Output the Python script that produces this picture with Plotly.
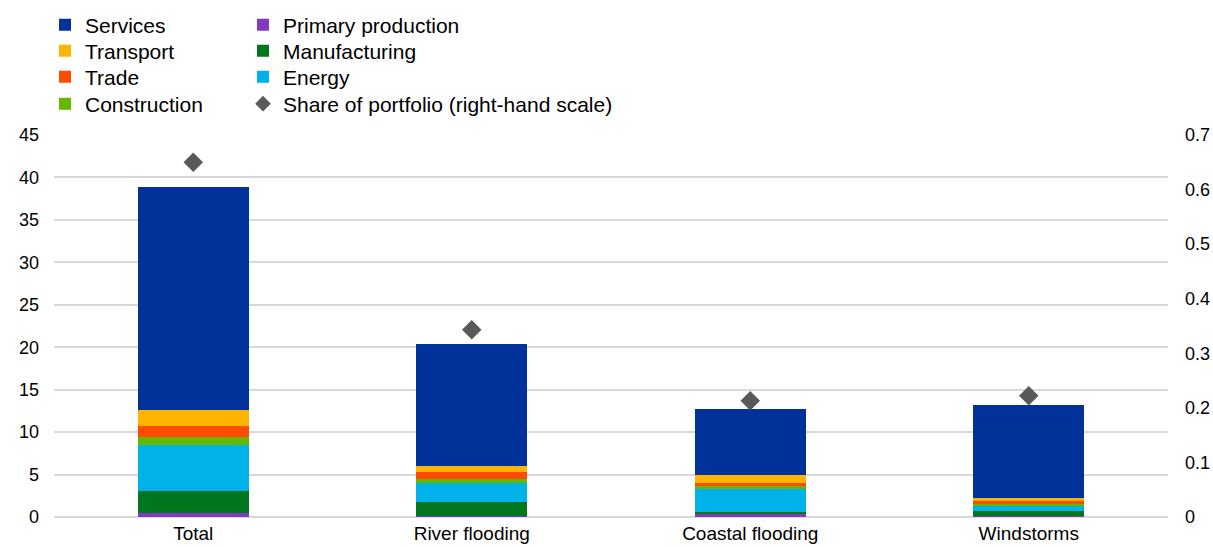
import plotly.graph_objects as go

categories = ["Total", "River flooding", "Coastal flooding", "Windstorms"]

# Sector contributions, stacked bottom-up
primary_production = [0.45, 0.1, 0.33, 0.1]
manufacturing = [2.6, 1.65, 0.3, 0.66]
energy = [5.4, 2.3, 2.64, 0.63]
construction = [0.95, 0.4, 0.39, 0.2]
trade = [1.33, 0.86, 0.39, 0.24]
transport = [1.9, 0.75, 0.9, 0.4]
services = [26.2, 14.3, 7.77, 10.95]

# Share of portfolio (right-hand scale)
share_of_portfolio = [0.65, 0.343, 0.213, 0.222]

left_ticks = [0, 5, 10, 15, 20, 25, 30, 35, 40, 45]
right_ticks = [0, 0.1, 0.2, 0.3, 0.4, 0.5, 0.6, 0.7]

FONT = "Liberation Sans, Arial, sans-serif"
W, H = 1213, 547

fig = go.Figure()

# (name, values, colour, legend id) - one small legend per entry so the
# two-column key can be laid out on a fixed grid
stack = [
    ("Primary production", primary_production, "#8139C6", "legend5"),
    ("Manufacturing", manufacturing, "#00761E", "legend6"),
    ("Energy", energy, "#00B1EA", "legend7"),
    ("Construction", construction, "#65B800", "legend4"),
    ("Trade", trade, "#FF4B00", "legend3"),
    ("Transport", transport, "#FFB400", "legend2"),
    ("Services", services, "#003299", "legend"),
]
for name, vals, color, leg in stack:
    fig.add_trace(go.Bar(
        x=categories, y=vals, name=name,
        marker=dict(color=color, line=dict(width=0)),
        legend=leg,
    ))

fig.add_trace(go.Scatter(
    x=categories, y=share_of_portfolio, name="Share of portfolio (right-hand scale)",
    mode="markers", yaxis="y2",
    marker=dict(symbol="diamond", size=15, color="#595959"),
    legend="legend8",
))

legend_common = dict(
    font=dict(family=FONT, size=21, color="#000000"),
    bgcolor="rgba(0,0,0,0)",
    orientation="v",
    xref="container", yref="container",
    xanchor="left", yanchor="middle",
    itemsizing="constant",
)

row_y = [25, 51, 77, 104]
col_x = [45, 243]

legends = {}
for i in range(8):
    key = "legend" if i == 0 else f"legend{i + 1}"
    col, row = divmod(i, 4)
    legends[key] = dict(x=col_x[col] / W, y=1 - row_y[row] / H, **legend_common)

fig.update_layout(
    width=W, height=H,
    margin=dict(l=54, r=45, t=135, b=30, autoexpand=False),
    paper_bgcolor="white", plot_bgcolor="white",
    barmode="stack", bargap=0.6,
    font=dict(family=FONT, size=18, color="#000000"),
    xaxis=dict(showgrid=False, showline=False, ticks="",
               ticklabelstandoff=3,
               tickfont=dict(size=19, color="#000000")),
    yaxis=dict(range=[0, 45], tickvals=left_ticks, showgrid=True,
               gridcolor="#D9D9D9", gridwidth=1.5, zeroline=True,
               zerolinecolor="#D9D9D9", zerolinewidth=1.5,
               ticks="", ticklabelstandoff=14,
               tickfont=dict(size=18, color="#000000")),
    yaxis2=dict(range=[0, 0.7], tickvals=right_ticks, overlaying="y",
                side="right", showgrid=False, zeroline=False, ticks="",
                ticklabelstandoff=16,
                tickfont=dict(size=18, color="#000000")),
    showlegend=True,
    **legends,
)

fig.write_html("out.html")
